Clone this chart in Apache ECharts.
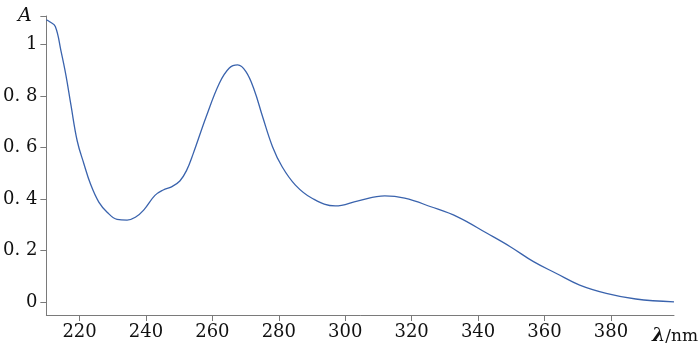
<!DOCTYPE html>
<html>
<head>
<meta charset="utf-8">
<script src="https://cdn.jsdelivr.net/npm/echarts@6/dist/echarts.min.js"></script>
<style>
html,body{margin:0;padding:0;background:#fff;}
#chart{width:700px;height:347px;}
</style>
</head>
<body>
<div id="chart"></div>
<script>
var wavelengths = [210, 211, 212.7, 214.4, 215.9, 217.4, 219.3, 221.3, 223.3, 225.8, 228.3, 231.3, 234.3, 236.8, 239.3, 242.7, 245.2, 247.7, 250.2, 252.2, 254.2, 258.1, 262.1, 265.1, 267.6, 270.1, 272.6, 275.1, 278.1, 281, 285, 290, 297, 303.9, 311.9, 317.9, 325.8, 333.8, 342.7, 349.7, 356.7, 363.6, 370.6, 378.6, 387.5, 399];
var absorbance = [1.095, 1.088, 1.069, 0.975, 0.88, 0.765, 0.625, 0.537, 0.458, 0.388, 0.349, 0.321, 0.318, 0.329, 0.357, 0.414, 0.435, 0.447, 0.470, 0.510, 0.575, 0.718, 0.849, 0.908, 0.920, 0.894, 0.823, 0.720, 0.603, 0.525, 0.454, 0.403, 0.373, 0.393, 0.412, 0.403, 0.370, 0.331, 0.267, 0.215, 0.157, 0.111, 0.066, 0.034, 0.012, 0.001];
var xTicks = [220, 240, 260, 280, 300, 320, 340, 360, 380];
var yTicks = [0, 0.2, 0.4, 0.6, 0.8, 1];
var yTickLabels = ['0', '0. 2', '0. 4', '0. 6', '0. 8', '1'];
var yTop = 1.11;

var chart = echarts.init(document.getElementById('chart'), null, {renderer: 'canvas'});
var font = 'DejaVu Serif';
var axisColor = '#7a7a7a';
var option = {
  animation: false,
  backgroundColor: '#fff',
  grid: {left: 42, top: 16, right: 26, bottom: 32, containLabel: false},
  xAxis: {
    type: 'value', min: 210, max: 399,
    axisLine: {show: true, onZero: false, lineStyle: {color: axisColor, width: 1}},
    axisTick: {show: true, length: 6, customValues: xTicks, lineStyle: {color: axisColor}},
    axisLabel: {customValues: xTicks, color: '#111', fontFamily: font, fontSize: 18, margin: 8},
    splitLine: {show: false}
  },
  yAxis: {
    type: 'value', min: -0.05, max: yTop,
    axisLine: {show: true, onZero: false, lineStyle: {color: axisColor, width: 1}},
    axisTick: {show: true, length: 6, customValues: yTicks.concat([yTop]), lineStyle: {color: axisColor}},
    axisLabel: {customValues: yTicks, color: '#111', fontFamily: font, fontSize: 18, margin: 9,
      formatter: function (v) { var i = yTicks.indexOf(Math.round(v * 10) / 10); return i >= 0 ? yTickLabels[i] : ''; }},
    splitLine: {show: false}
  },
  graphic: [
    {type: 'text', left: 18, top: 7, style: {text: 'A', font: 'italic 19px "DejaVu Serif"', fill: '#111'}},
    {type: 'text', right: 2, top: 327, style: {
      text: '{l|λ}{n|/nm}',
      rich: {
        l: {font: 'italic bold 19px "DejaVu Serif"', fill: '#111'},
        n: {font: '17px "DejaVu Serif"', fill: '#111'}
      }
    }}
  ],
  series: [{
    type: 'line',
    data: wavelengths.map(function (w, i) { return [w, absorbance[i]]; }),
    smooth: 0.4,
    showSymbol: false,
    lineStyle: {color: '#3a63ad', width: 1.3}
  }]
};
chart.setOption(option);
</script>
</body>
</html>
